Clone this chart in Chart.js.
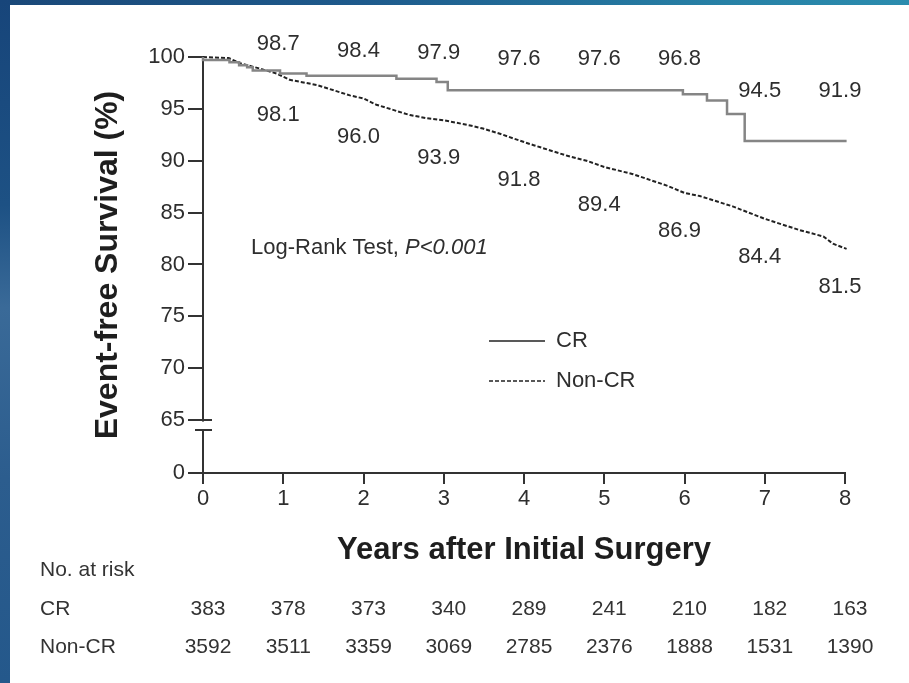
<!DOCTYPE html>
<html>
<head>
<meta charset="utf-8">
<script src="https://cdn.jsdelivr.net/npm/chart.js@4/dist/chart.umd.min.js"></script>
<style>
  html, body { margin: 0; padding: 0; width: 909px; height: 683px; overflow: hidden; }
  #frame {
    position: relative; width: 909px; height: 683px;
    background: linear-gradient(90deg, #1a4878 0%, #1e5a8c 40%, #2781a6 80%, #2b8cae 100%);
  }
  #edge {
    position: absolute; left: 0; top: 0; width: 10px; height: 683px;
    background: linear-gradient(180deg, #17457a 0%, #1d5184 30%, #3a6a98 45%, #2c5d8e 70%, #24588b 100%);
  }
  #panel { position: absolute; left: 10px; top: 5px; right: 0; bottom: 0; background: #ffffff; }
  #chart { position: absolute; left: 0; top: 0; }
</style>
</head>
<body>
<div id="frame">
  <div id="edge"></div>
  <div id="panel"></div>
  <canvas id="chart" width="909" height="683"></canvas>
</div>
<script>
// Kaplan-Meier event-free survival, CR vs Non-CR
const crTimes = [0, 0.33, 0.45, 0.55, 0.62, 0.96, 1.29, 2.41, 2.91, 3.05, 5.98, 6.28, 6.53, 6.75, 7.87, 8.02];
const crSurv  = [100, 99.7, 99.5, 99.2, 99.0, 98.7, 98.4, 98.2, 97.9, 97.6, 96.8, 96.4, 95.8, 94.5, 91.9, 91.9];

const nonCrTimes = [0, 0.32, 0.46, 0.70, 0.92, 1, 1.08, 1.42, 1.83, 2, 2.16, 2.58, 2.79, 3, 3.33, 3.49, 3.70, 4, 4.12, 4.53, 4.78, 5, 5.36, 5.78, 6, 6.19, 6.60, 7, 7.44, 7.73, 7.85, 8.02];
const nonCrSurv  = [100, 99.9, 99.4, 98.9, 98.4, 98.1, 97.8, 97.3, 96.3, 96.0, 95.4, 94.4, 94.1, 93.9, 93.4, 93.1, 92.6, 91.8, 91.5, 90.5, 90.0, 89.4, 88.7, 87.6, 86.9, 86.6, 85.6, 84.4, 83.3, 82.7, 82.0, 81.5];

// yearly survival estimates printed beside the curves
const labelYears    = [1, 2, 3, 4, 5, 6, 7, 8];
const crYearSurv    = [98.7, 98.4, 97.9, 97.6, 97.6, 96.8, 94.5, 91.9];
const nonCrYearSurv = [98.1, 96.0, 93.9, 91.8, 89.4, 86.9, 84.4, 81.5];

// number at risk
const riskYears   = [0, 1, 2, 3, 4, 5, 6, 7, 8];
const crAtRisk    = [383, 378, 373, 340, 289, 241, 210, 182, 163];
const nonCrAtRisk = [3592, 3511, 3359, 3069, 2785, 2376, 1888, 1531, 1390];

// y axis: broken between 0 and 65
const yTickValues = [65, 70, 75, 80, 85, 90, 95, 100];
const yAxisFloor = 59.9;      // where the "0" tick sits below the break
const yFloorLabel = '0';

const FONT = "'Liberation Sans', Arial, Helvetica, sans-serif";
const TEXT = '#2e2e2e';
const AXIS = '#333333';

function stepValueAt(times, vals, t) {
  let v = vals[0];
  for (let i = 0; i < times.length; i++) { if (times[i] <= t) v = vals[i]; }
  return v;
}

const decorations = {
  id: 'decorations',
  afterDraw(chart) {
    const { ctx, chartArea: ca, scales: { x, y } } = chart;
    ctx.save();

    // axis break between 0 and 65
    const y65 = y.getPixelForValue(65);
    ctx.fillStyle = '#ffffff';
    ctx.fillRect(ca.left - 3, y65 + 1.5, 6, 7.5);
    ctx.strokeStyle = AXIS; ctx.lineWidth = 2;
    ctx.beginPath();
    ctx.moveTo(ca.left - 1, y65); ctx.lineTo(ca.left + 9, y65);
    ctx.moveTo(ca.left - 8, y65 + 10); ctx.lineTo(ca.left + 9, y65 + 10);
    ctx.stroke();

    // yearly estimates: CR above its curve, Non-CR below
    ctx.font = `22px ${FONT}`;
    ctx.fillStyle = TEXT;
    ctx.textAlign = 'center'; ctx.textBaseline = 'middle';
    labelYears.forEach((yr, i) => {
      const px = x.getPixelForValue(yr) - 5;
      const level = stepValueAt(crTimes, crSurv, yr - 0.2);
      ctx.fillText(crYearSurv[i].toFixed(1), px, y.getPixelForValue(level) - 23);
      ctx.fillText(nonCrYearSurv[i].toFixed(1), px, y.getPixelForValue(nonCrYearSurv[i]) + 38);
    });

    // log-rank note
    ctx.textAlign = 'left';
    const noteX = ca.left + 48, noteY = ca.top + 191;
    const plain = 'Log-Rank Test, ';
    ctx.font = `22px ${FONT}`;
    ctx.fillText(plain, noteX, noteY);
    const w = ctx.measureText(plain).width;
    ctx.font = `italic 22px ${FONT}`;
    ctx.fillText('P<0.001', noteX + w, noteY);

    // legend
    ctx.font = `22px ${FONT}`;
    chart.data.datasets.forEach((ds, i) => {
      const ly = ca.top + 284 + i * 40;
      ctx.save();
      ctx.strokeStyle = '#222222'; ctx.lineWidth = 1.6;
      ctx.setLineDash(ds.borderDash || []);
      ctx.beginPath();
      ctx.moveTo(ca.left + 286, ly); ctx.lineTo(ca.left + 342, ly);
      ctx.stroke();
      ctx.restore();
      ctx.fillText(ds.label, ca.left + 353, ly);
    });

    // number at risk table
    ctx.font = `21px ${FONT}`;
    ctx.fillStyle = '#333333';
    ctx.textAlign = 'left';
    ctx.fillText('No. at risk', 40, 570);
    ctx.fillText('CR', 40, 609);
    ctx.fillText('Non-CR', 40, 647);
    ctx.textAlign = 'center';
    riskYears.forEach((yr, i) => {
      const px = x.getPixelForValue(yr) + 5;
      ctx.fillText(String(crAtRisk[i]), px, 609);
      ctx.fillText(String(nonCrAtRisk[i]), px, 647);
    });

    ctx.restore();
  }
};

new Chart(document.getElementById('chart'), {
  type: 'line',
  data: {
    datasets: [
      {
        label: 'CR',
        data: crTimes.map((t, i) => ({ x: t, y: crSurv[i] })),
        stepped: 'after',
        borderColor: '#858585',
        borderWidth: 2.5,
        pointRadius: 0,
        fill: false,
        clip: false
      },
      {
        label: 'Non-CR',
        data: nonCrTimes.map((t, i) => ({ x: t, y: nonCrSurv[i] })),
        borderColor: '#222222',
        borderWidth: 2,
        borderDash: [4, 2],
        pointRadius: 0,
        tension: 0,
        fill: false,
        clip: false
      }
    ]
  },
  options: {
    responsive: false,
    animation: false,
    devicePixelRatio: 1,
    events: [],
    layout: { padding: { top: 57, right: 64, bottom: 0, left: 0 } },
    plugins: { legend: { display: false }, tooltip: { enabled: false } },
    scales: {
      x: {
        type: 'linear',
        min: 0, max: 8,
        afterFit(s) { s.height = 210; },
        ticks: { stepSize: 1, color: TEXT, padding: 2, font: { family: FONT, size: 22 } },
        grid: { drawOnChartArea: false, drawTicks: true, tickLength: 11, color: AXIS, lineWidth: 2 },
        border: { display: true, color: AXIS, width: 2 },
        title: {
          display: true, text: 'Years after Initial Surgery', color: '#1e1e1e',
          font: { family: FONT, size: 31, weight: 'bold' },
          padding: { top: 0, bottom: 114 }
        }
      },
      y: {
        type: 'linear',
        min: yAxisFloor, max: 100,
        afterFit(s) { s.width = 203; },
        afterBuildTicks(s) { s.ticks = [yAxisFloor, ...yTickValues].map(v => ({ value: v })); },
        ticks: {
          color: TEXT, padding: 3, font: { family: FONT, size: 22 },
          callback: v => (v === yAxisFloor ? yFloorLabel : String(v))
        },
        grid: { drawOnChartArea: false, drawTicks: true, tickLength: 15, color: AXIS, lineWidth: 2 },
        border: { display: true, color: AXIS, width: 2 },
        title: {
          display: true, text: 'Event-free Survival (%)', color: '#1e1e1e',
          font: { family: FONT, size: 32, weight: 'bold' },
          padding: { top: 89, bottom: 0 }
        }
      }
    }
  },
  plugins: [decorations]
});
</script>
</body>
</html>
